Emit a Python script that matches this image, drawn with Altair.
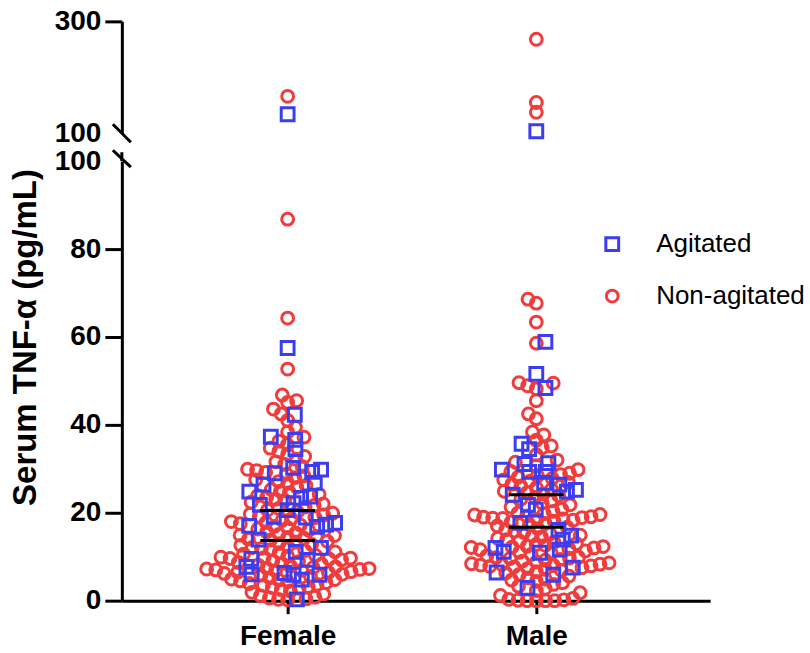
import altair as alt
import pandas as pd

# ---------------- data ----------------
groups = ["Female", "Male"]
statuses = ["Agitated", "Non-agitated"]

female_agitated = [0.3, 4.8, 5.9, 5.9, 6.0, 6.3, 7.7, 9.3, 9.5, 11.1, 12.0, 13.9,
                   16.8, 17.0, 17.3, 17.7, 18.9, 19.1, 20.6, 21.8, 22.2, 23.4, 23.7,
                   24.8, 26.4, 26.8, 29.0, 29.3, 29.8, 30.2, 34.5, 36.6, 37.3, 42.3,
                   57.5, 134]
female_non = [0.2, 0.3, 0.4, 0.6, 0.8, 1.1, 1.5, 1.9,
              2.2, 2.5, 2.8, 3.0, 3.2, 3.5, 3.7, 3.9, 4.1, 4.3, 4.5, 4.7, 4.8, 4.9,
              5.2, 5.5, 5.8, 6.0, 6.2, 6.4, 6.5, 6.6, 6.8, 6.9, 7.0, 7.1, 7.2, 7.3,
              7.4, 7.5, 7.7, 7.9, 8.1, 8.3, 8.5, 8.7, 8.9, 9.1, 9.3, 9.5, 9.6, 9.7,
              9.8, 9.9,
              10.1, 10.3, 10.6, 10.9, 11.1, 11.4, 11.6, 11.9, 12.1, 12.3, 12.6, 12.8,
              13.0, 13.3, 13.5, 13.8, 14.0, 14.2, 14.4, 14.6, 14.8, 14.9,
              15.1, 15.4, 15.7, 16.0, 16.3, 16.6, 16.9, 17.2, 17.5, 17.8, 18.0, 18.3,
              18.6, 18.9, 19.2, 19.5, 19.7, 19.9,
              20.2, 20.6, 21.0, 21.3, 21.7, 22.0, 22.4, 22.8, 23.1, 23.5, 23.9, 24.2,
              24.6, 24.9,
              25.3, 25.8, 26.2, 26.7, 27.1, 27.5, 28.0, 28.4, 28.8, 29.2, 29.6, 29.9,
              30.5, 31.0, 31.6, 32.2, 32.8, 33.4, 34.0, 34.7,
              35.5, 36.3, 37.2, 38.4, 39.5,
              41.0, 42.5, 43.6, 45.1, 45.5, 46.8,
              52.7, 64.3, 86.8, 166]
male_agitated = [2.9, 5.9, 6.4, 7.5, 10.9, 11.1, 11.6, 12.0, 13.9, 14.8, 16.1, 17.7,
                 20.7, 21.8, 24.1, 24.8, 25.2, 26.4, 26.8, 29.3, 29.3, 29.8, 31.1,
                 31.3, 34.5, 35.7, 48.4, 51.6, 58.9, 103.6]
male_non = [0.0, 0.0, 0.0, 0.0, 0.1, 0.2, 0.3, 0.5,
            1.2, 1.8, 2.3, 2.8, 3.3, 3.7, 4.1, 4.4, 4.7, 4.9,
            5.2, 5.6, 6.0, 6.3, 6.6, 6.9, 7.1, 7.3, 7.5, 7.7, 7.8, 7.9, 8.0, 8.1, 8.2,
            8.3, 8.4, 8.6, 8.8, 9.0, 9.2, 9.4, 9.6, 9.7, 9.8, 9.9,
            10.2, 10.5, 10.8, 11.0, 11.3, 11.6, 11.8, 12.0, 12.1, 12.2, 12.3, 12.4,
            12.6, 12.8, 13.0, 13.3, 13.6, 13.9, 14.2, 14.5, 14.7, 14.9,
            15.2, 15.5, 15.8, 16.1, 16.4, 16.7, 17.0, 17.3, 17.6, 17.9, 18.1, 18.3,
            18.5, 18.6, 18.7, 18.8, 18.9, 19.0, 19.1, 19.3, 19.5, 19.6, 19.8, 19.9,
            20.3, 20.8, 21.3, 21.8, 22.2, 22.7, 23.1, 23.5, 23.9, 24.3, 24.6, 24.9,
            25.3, 25.7, 26.1, 26.5, 26.9, 27.2, 27.5, 27.8, 28.1, 28.4, 28.7, 29.0,
            29.4, 29.8,
            30.7, 31.5, 32.0, 33.2, 34.8,
            35.2, 36.5, 37.7, 38.4,
            41.4, 42.5, 45.5, 48.2, 48.9, 49.5, 49.6,
            58.6, 63.4, 67.7, 68.6, 137.5, 155, 268]

median_group = ["Female", "Female", "Male", "Male"]
median_status = ["Agitated", "Non-agitated", "Agitated", "Non-agitated"]
median_value = [20.5, 13.7, 24.1, 16.7]

y_low_ticks = [0, 20, 40, 60, 80, 100]
y_high_ticks = [100, 300]

# ---------------- layout helpers ----------------
BREAK = 100.0
LOW_PX = 4.4      # pixels per unit, lower segment
HIGH_PX = 0.56    # pixels per unit, upper segment
X_PX = 249.0      # pixels per category step
DIAM = 9.2        # minimal centre distance in the swarm
HALF_LINE = 0.11  # half width of the median lines (category units)


def swarm(vals):
    ypx = [v * LOW_PX if v <= BREAK else 10000 + (v - BREAK) * HIGH_PX for v in vals]
    order = sorted(range(len(vals)), key=lambda i: ypx[i])
    placed, xs = [], [0.0] * len(vals)
    for i in order:
        y = ypx[i]
        iv = []
        for px, py in placed:
            dy = abs(py - y)
            if dy < DIAM:
                w = (DIAM * DIAM - dy * dy) ** 0.5
                iv.append((px - w, px + w))
        cands = [0.0] + [a for a, b in iv] + [b for a, b in iv]
        cands.sort(key=lambda c: (round(abs(c), 6), -c if len(placed) % 2 else c))
        for c in cands:
            if all(not (a + 1e-7 < c < b - 1e-7) for a, b in iv):
                xs[i] = c
                break
        placed.append((xs[i], y))
    return xs


series = {
    "Female": {"Agitated": female_agitated, "Non-agitated": female_non},
    "Male": {"Agitated": male_agitated, "Non-agitated": male_non},
}
rows = []
for gi, g in enumerate(groups):
    vals, labs = [], []
    for s in statuses:
        vals += series[g][s]
        labs += [s] * len(series[g][s])
    xs = swarm(vals)
    for v, s, xo in zip(vals, labs, xs):
        rows.append({"group": g, "status": s, "value": v, "x": gi + xo / X_PX,
                     "ord": 0 if s == "Non-agitated" else 1})
df = pd.DataFrame(rows).sort_values("ord", kind="stable")
df_low = df[df["value"] <= BREAK]
df_high = df[df["value"] > BREAK]

med = pd.DataFrame({"group": median_group, "status": median_status, "value": median_value})
med["gi"] = med["group"].map({g: i for i, g in enumerate(groups)})
med["x1"] = med["gi"] - HALF_LINE
med["x2"] = med["gi"] + HALF_LINE

FONT = "Liberation Sans"
W = 589
H_LOW = 440
H_HIGH = 112
XDOM = [-0.6667, 1.699]
BLUE = "#3c3cf0"
RED = "#f03c3c"

legend = alt.Legend(title=None, orient="none", legendX=478, legendY=210,
                    labelFont=FONT, labelFontSize=26, labelColor="black",
                    symbolStrokeWidth=3, symbolSize=150, rowPadding=26,
                    labelOffset=31)
color = alt.Color("status:N", scale=alt.Scale(domain=statuses, range=[BLUE, RED]),
                  legend=legend)
shape = alt.Shape("status:N", scale=alt.Scale(domain=statuses, range=["square", "circle"]),
                  legend=legend)
size = alt.Size("status:N", scale=alt.Scale(domain=statuses, range=[165, 140]), legend=None)

tick_hide_100 = {"condition": {"test": "datum.value == 100", "value": 0}, "value": 1}

y_axis_common = dict(labelFont=FONT, labelFontSize=28, labelFontWeight="bold",
                     labelColor="black", domainColor="black", domainWidth=3,
                     tickColor="black", tickWidth=3, tickSize=17, labelPadding=4,
                     grid=False)

x_scale = alt.Scale(domain=XDOM, nice=False, zero=False)

# ---------------- upper panel ----------------
up_points = alt.Chart(df_high).mark_point(filled=False, strokeWidth=3, opacity=1).encode(
    x=alt.X("x:Q", scale=x_scale, axis=None),
    y=alt.Y("value:Q", scale=alt.Scale(domain=[100, 300], nice=False, zero=False),
            axis=alt.Axis(values=y_high_ticks, title=None, tickOpacity=tick_hide_100,
                          **y_axis_common)),
    color=color, shape=shape, size=size,
)
up_slash = alt.Chart(pd.DataFrame({"k": [0]})).mark_rule(color="black", strokeWidth=3).encode(
    x=alt.value(-9), x2=alt.value(9), y=alt.value(H_HIGH - 9), y2=alt.value(H_HIGH + 9))
upper = alt.layer(up_points, up_slash).properties(width=W, height=H_HIGH)

# ---------------- lower panel ----------------
low_points = alt.Chart(df_low).mark_point(filled=False, strokeWidth=3, opacity=1).encode(
    x=alt.X("x:Q", scale=x_scale,
            axis=alt.Axis(values=[0, 1], labelExpr="datum.value == 0 ? 'Female' : 'Male'",
                          title=None, labelFont=FONT, labelFontSize=28,
                          labelFontWeight="bold", labelColor="black",
                          domainColor="black", domainWidth=3, tickColor="black",
                          tickWidth=3, tickSize=13, labelPadding=9, grid=False)),
    y=alt.Y("value:Q", scale=alt.Scale(domain=[0, 100], nice=False, zero=False),
            axis=alt.Axis(values=y_low_ticks, title="Serum TNF-\u03b1 (pg/mL)",
                          titleFont=FONT, titleFontSize=33, titleFontWeight="bold",
                          titleColor="black", titleAngle=-90, titleAlign="center",
                          titleBaseline="middle", titleX=-96, titleY=176,
                          tickOpacity=tick_hide_100, **y_axis_common)),
    color=color, shape=shape, size=size,
)
medians = alt.Chart(med).mark_rule(color="black", strokeWidth=3).encode(
    x=alt.X("x1:Q", scale=x_scale), x2="x2:Q", y="value:Q")
low_ext = alt.Chart(pd.DataFrame({"k": [0]})).mark_rule(color="black", strokeWidth=3).encode(
    x=alt.value(0), y=alt.value(-9), y2=alt.value(0))
low_slash = alt.Chart(pd.DataFrame({"k": [0]})).mark_rule(color="black", strokeWidth=3).encode(
    x=alt.value(-9), x2=alt.value(9), y=alt.value(-11), y2=alt.value(6))
lower = alt.layer(low_points, medians, low_ext, low_slash).properties(width=W, height=H_LOW)

chart = alt.vconcat(upper, lower, spacing=28, bounds="flush").properties(
    padding={"left": 9, "top": 7, "right": 5, "bottom": 5},
    background="white",
).configure_view(stroke=None)

chart.save("out.html", embed_options={"renderer": "svg", "actions": False})
